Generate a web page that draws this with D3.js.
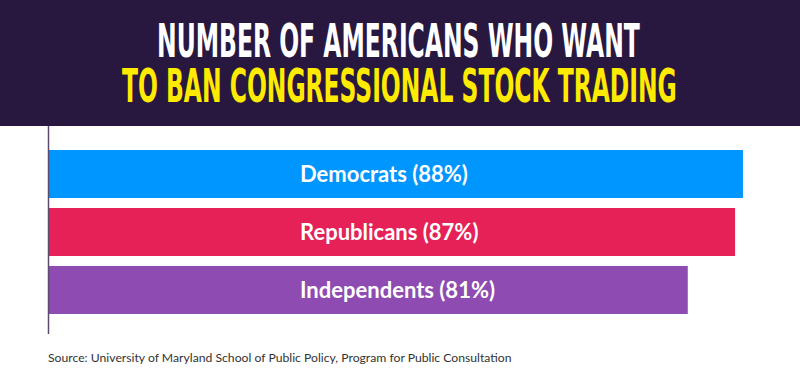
<!DOCTYPE html>
<html><head><meta charset="utf-8">
<script src="https://cdn.jsdelivr.net/npm/d3@7"></script>
<style>body{margin:0;background:#fff}svg{display:block}</style>
</head><body>
<svg id="c" width="800" height="392"></svg>
<script>
const categories = ["Democrats", "Republicans", "Independents"];
const values = [88, 87, 81];
const colors = ["#0096FF", "#E52157", "#8E4BB1"];
const titleLines = ["NUMBER OF AMERICANS WHO WANT", "TO BAN CONGRESSIONAL STOCK TRADING"];
const source = "Source: University of Maryland School of Public Policy, Program for Public Consultation";

const svg = d3.select("#c");
svg.append("rect").attr("x",0).attr("y",0).attr("width",800).attr("height",126).attr("fill","#28183F");

const tl = [{t:titleLines[0], x0:157, x1:640, y:57, fill:"#FFFFFF"},
            {t:titleLines[1], x0:122, x1:677, y:102, fill:"#FFEB00"}];
const tt = svg.selectAll("text.title").data(tl).join("text").attr("class","title")
  .attr("x", 0).attr("y", 0)
  .attr("font-family","'Liberation Sans Narrow','DejaVu Sans Condensed',sans-serif")
  .attr("font-weight","bold").attr("font-size",42)
  .attr("fill", d=>d.fill).text(d=>d.t);
tt.each(function(d){
  const w = this.getComputedTextLength();
  const sx = (d.x1-d.x0)/w;
  d3.select(this).attr("transform", `translate(${d.x0},${d.y}) scale(${sx},1.1)`);
});

const x = d3.scaleLinear().domain([0,100]).range([49, 837.6]);
const y = d3.scaleBand().domain(categories).range([150,314]).paddingInner(10/58).paddingOuter(0);

const data = categories.map((c,i)=>({c, v:values[i], col:colors[i]}));
svg.selectAll("rect.bar").data(data).join("rect").attr("class","bar")
  .attr("x", x(0)).attr("y", d=>y(d.c))
  .attr("width", d=>x(d.v)-x(0)).attr("height", y.bandwidth())
  .attr("fill", d=>d.col);

svg.append("line").attr("x1",48.5).attr("x2",48.5).attr("y1",126).attr("y2",334)
  .attr("stroke","#5B4B6E").attr("stroke-width",1.5);

svg.selectAll("text.lab").data(data).join("text").attr("class","lab")
  .attr("x", 300).attr("y", d=>y(d.c)+y.bandwidth()/2)
  .attr("dy","0.36em")
  .attr("font-family","Lato, 'Open Sans', sans-serif").attr("font-weight","bold")
  .attr("font-size",22).attr("fill","#fff")
  .text(d=>`${d.c} (${d.v}%)`);

svg.append("text").attr("x",48).attr("y",362)
  .attr("font-family","Lato, 'Open Sans', sans-serif").attr("font-size",12.2)
  .attr("fill","#333").text(source);
</script>
</body></html>
